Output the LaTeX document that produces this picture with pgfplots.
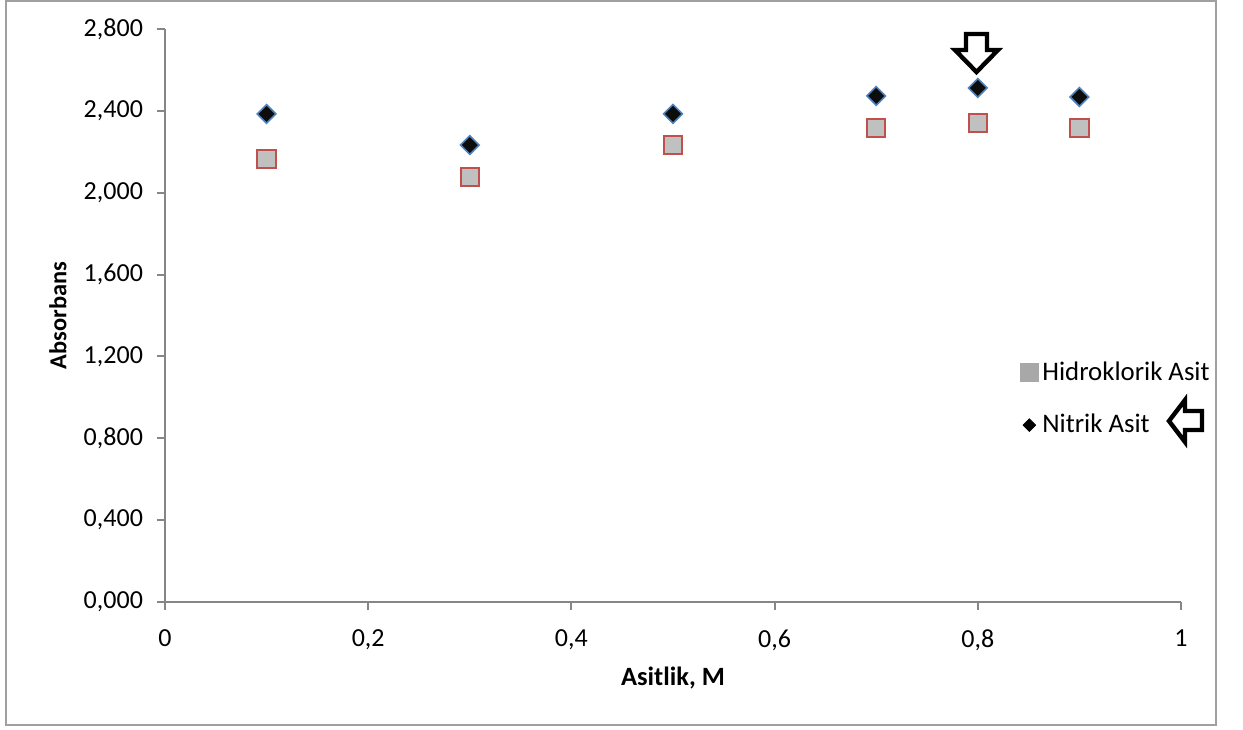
\documentclass[border=0pt]{standalone}
\usepackage{pgfplots}
\pgfplotsset{compat=1.18}
\usepackage{fontspec}
\setmainfont{Carlito}

\definecolor{axisgray}{HTML}{868686}
\definecolor{framegray}{HTML}{A0A0A0}
\definecolor{hclfill}{HTML}{C0C0C0}
\definecolor{hcledge}{HTML}{C0504D}
\definecolor{nitfill}{HTML}{0D0D0D}
\definecolor{nitedge}{HTML}{4F81BD}
\definecolor{legsq}{HTML}{A8A8A8}

% layout units: 1 unit = 0.5pt, measured from the sheet's top-left corner
\newcommand{\pxy}[2]{({(#1-165)*0.5pt},{(602-#2)*0.5pt})}

\begin{document}
\begin{tikzpicture}
\useasboundingbox \pxy{0}{729} rectangle \pxy{1243}{0};
% chart area frame
\draw[framegray, line width=0.8pt] \pxy{6}{1} rectangle \pxy{1216}{725};

\begin{axis}[
  at={(0,0)}, anchor=origin,
  scale only axis,
  width=508pt, height=286.5pt,
  xmin=0, xmax=1, ymin=0, ymax=2.8,
  axis lines*=left,
  axis line style={axisgray, line width=1pt},
  tick style={axisgray, line width=1pt},
  tick align=outside,
  major tick length=4pt,
  xtick={0,0.2,0.4,0.6,0.8,1},
  ytick={0,0.4,0.8,1.2,1.6,2.0,2.4,2.8},
  clip=false,
  font=\fontsize{13}{15}\selectfont,
  tick label style={font=\fontsize{13}{15}\selectfont},
  xticklabel style={yshift=-6.5pt, /pgf/number format/.cd, use comma, fixed, precision=1, assume math mode=true},
  yticklabel style={xshift=-3.5pt, /pgf/number format/.cd, use comma, fixed, fixed zerofill, precision=3, assume math mode=true},
  xlabel={\textbf{Asitlik, M}},
  ylabel={\textbf{Absorbans}},
  xlabel style={at={(axis description cs:0.5,-0.133)}, anchor=center, font=\fontsize{13.2}{15}\selectfont},
  ylabel style={at={(axis description cs:-0.1053,0.5)}, anchor=center, font=\fontsize{12.2}{14}\selectfont},
  legend style={at={(axis description cs:0.8415,0.4270)}, anchor=north west,
    draw=none, fill=none, inner sep=0pt, row sep=11.5pt,
    font=\fontsize{13.4}{15}\selectfont},
  legend cell align=left,
  legend image code/.code={\draw[mark repeat=2,mark phase=2,#1] plot coordinates {(0pt,0pt)(4.5pt,0pt)(9pt,0pt)};},
]
\addlegendimage{only marks, mark=square*, mark size=4.5pt, mark options={fill=legsq, draw=legsq, line width=0pt}}
\addlegendentry{Hidroklorik Asit}
\addlegendimage{only marks, mark=square*, mark size=2.2pt, mark options={fill=black, draw=black, rotate=45}}
\addlegendentry{Nitrik Asit}

% Hidroklorik asit
\addplot[forget plot, only marks, mark=square*, mark size=4.6pt,
  mark options={fill=hclfill, draw=hcledge, line width=1pt}]
  coordinates {(0.1,2.165) (0.3,2.077) (0.5,2.233) (0.7,2.316) (0.8,2.341) (0.9,2.316)};
% Nitrik asit
\addplot[forget plot, only marks, mark=square*, mark size=3.3pt,
  mark options={fill=nitfill, draw=nitedge, line width=0.8pt, rotate=45}]
  coordinates {(0.1,2.385) (0.3,2.233) (0.5,2.385) (0.7,2.473) (0.8,2.512) (0.9,2.468)};
\end{axis}

% block arrows pointing at the maximum and at the legend entry
\draw[black, line width=2.2pt, fill=white, line join=miter]
  \pxy{966}{34} -- \pxy{987}{34} -- \pxy{987}{50} -- \pxy{998}{50} -- \pxy{976.5}{72}
  -- \pxy{955}{50} -- \pxy{966}{50} -- cycle;
\draw[black, line width=2.2pt, fill=white, line join=miter]
  \pxy{1202}{411} -- \pxy{1202}{430} -- \pxy{1185}{430} -- \pxy{1185}{442} -- \pxy{1169}{421}
  -- \pxy{1185}{400} -- \pxy{1185}{411} -- cycle;
\end{tikzpicture}
\end{document}
